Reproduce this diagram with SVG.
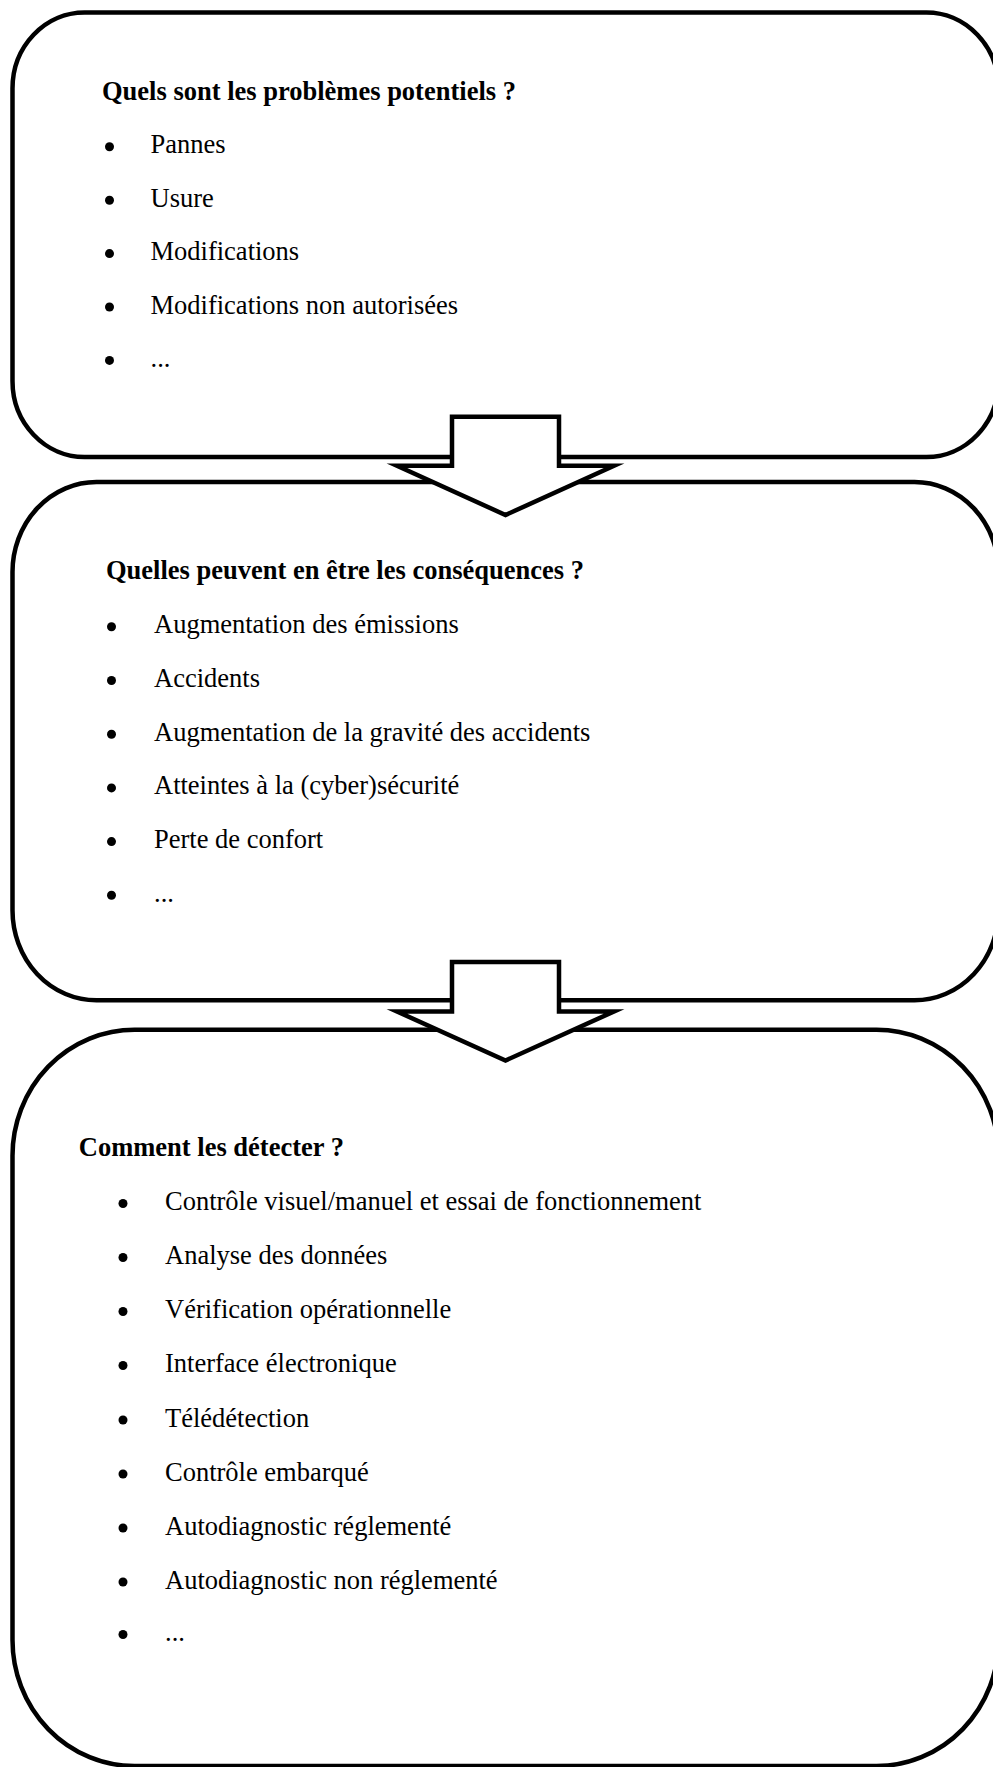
<svg xmlns="http://www.w3.org/2000/svg" width="993" height="1767" viewBox="0 0 993 1767">
<style>
.box{fill:#fff;stroke:#000;stroke-width:4.5}
.arrow{fill:#fff;stroke:#000;stroke-width:4.5;stroke-miterlimit:10;stroke-linejoin:miter}
.h{font-family:"Liberation Serif","Times New Roman",serif;font-size:26.5px;font-weight:bold;fill:#000}
.t{font-family:"Liberation Serif","Times New Roman",serif;font-size:26.5px;fill:#000}
.b{fill:#000}
</style>
<rect width="993" height="1767" fill="#fff"/>
<g id="box1">
<rect class="box" x="12.5" y="12.5" width="986" height="444.5" rx="72" ry="76"/>
<text class="h" x="102" y="99.5">Quels sont les problèmes potentiels ?</text>
<circle class="b" cx="109.5" cy="146.8" r="4.5"/><text class="t" x="150.5" y="153.3">Pannes</text>
<circle class="b" cx="109.5" cy="200.2" r="4.5"/><text class="t" x="150.5" y="206.7">Usure</text>
<circle class="b" cx="109.5" cy="253.6" r="4.5"/><text class="t" x="150.5" y="260.1">Modifications</text>
<circle class="b" cx="109.5" cy="307" r="4.5"/><text class="t" x="150.5" y="313.5">Modifications non autorisées</text>
<circle class="b" cx="109.5" cy="360.4" r="4.5"/><text class="t" x="150.5" y="366.9">...</text>
</g>
<g id="box2">
<rect class="box" x="12.5" y="482" width="986" height="518.3" rx="84" ry="90"/>
<text class="h" x="106" y="579.3">Quelles peuvent en être les conséquences ?</text>
<circle class="b" cx="111.5" cy="626.8" r="4.5"/><text class="t" x="154" y="633.3">Augmentation des émissions</text>
<circle class="b" cx="111.5" cy="680.5" r="4.5"/><text class="t" x="154" y="687">Accidents</text>
<circle class="b" cx="111.5" cy="734.2" r="4.5"/><text class="t" x="154" y="740.7">Augmentation de la gravité des accidents</text>
<circle class="b" cx="111.5" cy="787.9" r="4.5"/><text class="t" x="154" y="794.4">Atteintes à la (cyber)sécurité</text>
<circle class="b" cx="111.5" cy="841.6" r="4.5"/><text class="t" x="154" y="848.1">Perte de confort</text>
<circle class="b" cx="111.5" cy="895.3" r="4.5"/><text class="t" x="154" y="901.8">...</text>
</g>
<g id="box3">
<rect class="box" x="12.5" y="1029.7" width="986" height="736.3" rx="122" ry="126"/>
<text class="h" x="78.8" y="1156">Comment les détecter ?</text>
<circle class="b" cx="123" cy="1203.5" r="4.5"/><text class="t" x="165" y="1210">Contrôle visuel/manuel et essai de fonctionnement</text>
<circle class="b" cx="123" cy="1257.5" r="4.5"/><text class="t" x="165" y="1264">Analyse des données</text>
<circle class="b" cx="123" cy="1311.5" r="4.5"/><text class="t" x="165" y="1318">Vérification opérationnelle</text>
<circle class="b" cx="123" cy="1365.5" r="4.5"/><text class="t" x="165" y="1372">Interface électronique</text>
<circle class="b" cx="123" cy="1420" r="4.5"/><text class="t" x="165" y="1426.5">Télédétection</text>
<circle class="b" cx="123" cy="1474" r="4.5"/><text class="t" x="165" y="1480.5">Contrôle embarqué</text>
<circle class="b" cx="123" cy="1528" r="4.5"/><text class="t" x="165" y="1534.5">Autodiagnostic réglementé</text>
<circle class="b" cx="123" cy="1582" r="4.5"/><text class="t" x="165" y="1588.5">Autodiagnostic non réglementé</text>
<circle class="b" cx="123" cy="1634.5" r="4.5"/><text class="t" x="165" y="1641">...</text>
</g>
<g id="connectors">
<polygon id="arrow1" class="arrow" points="452,416.7 559,416.7 559,465.8 614,465.8 505.5,515 397,465.8 452,465.8"/>
<polygon id="arrow2" class="arrow" points="452,962 559,962 559,1011.5 614,1011.5 505.5,1060.5 397,1011.5 452,1011.5"/>
</g>
</svg>
